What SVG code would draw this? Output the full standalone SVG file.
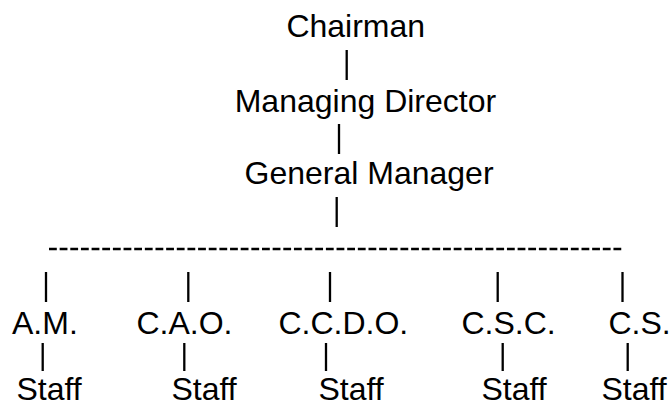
<svg xmlns="http://www.w3.org/2000/svg" width="672" height="406" viewBox="0 0 672 406">
<style>
  .t { font-family: "Liberation Sans", Arial, Helvetica, sans-serif; font-size: 32px; fill: #000; }
  .c line { stroke: #000; stroke-width: 2.3; fill: none; }
  .c line.dash { stroke-width: 2.4; stroke-dasharray: 7.8 2.85; }
</style>
<rect width="672" height="406" fill="#fff"/>
<g class="c" id="connectors">
  <line x1="346.7" y1="50" x2="346.7" y2="80"/>
  <line x1="339" y1="124" x2="339" y2="154"/>
  <line x1="336.7" y1="197" x2="336.7" y2="227"/>
  <line class="dash" x1="49" y1="249" x2="621.5" y2="249"/>
  <line x1="46" y1="272" x2="46" y2="302"/>
  <line x1="188.3" y1="272" x2="188.3" y2="302"/>
  <line x1="330" y1="272" x2="330" y2="302"/>
  <line x1="497.7" y1="272" x2="497.7" y2="302"/>
  <line x1="622.5" y1="272" x2="622.5" y2="302"/>
  <line x1="42.7" y1="343" x2="42.7" y2="371"/>
  <line x1="184.3" y1="343" x2="184.3" y2="371"/>
  <line x1="326" y1="343" x2="326" y2="371"/>
  <line x1="502.7" y1="343" x2="502.7" y2="371"/>
  <line x1="627.7" y1="343" x2="627.7" y2="371"/>
</g>
<g id="chairman"><text class="t" x="286.4" y="36.7">Chairman</text></g>
<g id="managing-director"><text class="t" x="234.7" y="111.7">Managing Director</text></g>
<g id="general-manager"><text class="t" x="244.5" y="184">General Manager</text></g>
<g id="am"><text class="t" x="12" y="334">A.M.</text></g>
<g id="cao"><text class="t" x="136.4" y="334">C.A.O.</text></g>
<g id="ccdo"><text class="t" x="278.4" y="334">C.C.D.O.</text></g>
<g id="csc"><text class="t" x="461.4" y="334">C.S.C.</text></g>
<g id="cs"><text class="t" x="608.4" y="334">C.S.</text></g>
<g id="staff-am"><text class="t" x="16.5" y="400">Staff</text></g>
<g id="staff-cao"><text class="t" x="171.5" y="400">Staff</text></g>
<g id="staff-ccdo"><text class="t" x="318.5" y="400">Staff</text></g>
<g id="staff-csc"><text class="t" x="481.5" y="400">Staff</text></g>
<g id="staff-cs"><text class="t" x="601.5" y="400">Staff</text></g>
</svg>
